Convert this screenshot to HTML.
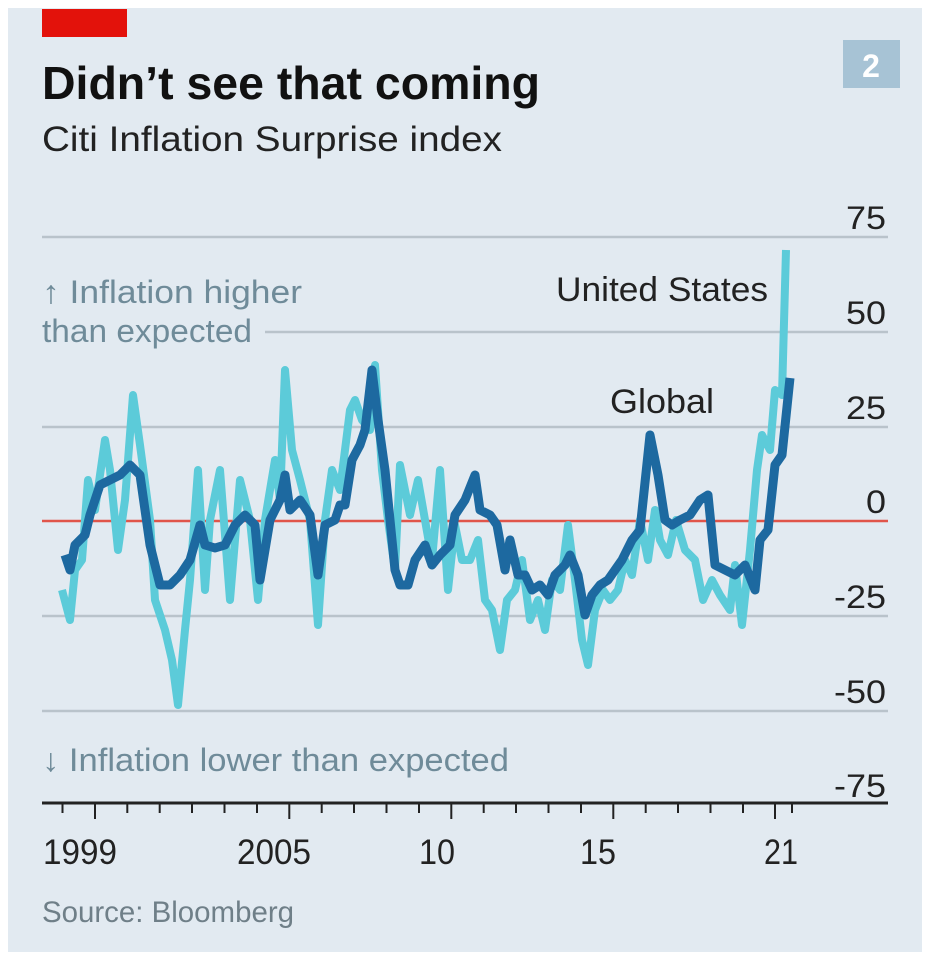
<!DOCTYPE html>
<html><head><meta charset="utf-8"><style>
html,body{margin:0;padding:0;background:#fff;}
svg{display:block;}
text{font-family:"Liberation Sans",sans-serif;}
</style></head><body>
<svg width="932" height="960" viewBox="0 0 932 960" xmlns="http://www.w3.org/2000/svg">
<rect x="8" y="8" width="914" height="944" fill="#e2eaf1"/>
<rect x="42" y="9" width="85" height="28" fill="#e3120b"/>
<text x="42" y="99" font-size="46" font-weight="bold" fill="#111" textLength="498" lengthAdjust="spacingAndGlyphs">Didn’t see that coming</text>
<text x="42" y="151" font-size="35" fill="#222" textLength="460" lengthAdjust="spacingAndGlyphs">Citi Inflation Surprise index</text>
<rect x="843" y="40" width="57" height="48" fill="#a7c3d5"/>
<text x="871" y="77" font-size="32" font-weight="bold" fill="#fff" text-anchor="middle">2</text>
<g stroke="#b9c3cb" stroke-width="2.5">
<line x1="42" y1="237" x2="888" y2="237"/>
<line x1="265" y1="332" x2="888" y2="332"/>
<line x1="42" y1="427" x2="888" y2="427"/>
<line x1="42" y1="616" x2="888" y2="616"/>
<line x1="42" y1="711" x2="888" y2="711"/>
</g>
<line x1="42" y1="521" x2="888" y2="521" stroke="#e0554a" stroke-width="2.5"/>
<g font-size="32" fill="#222" text-anchor="end">
<text x="886" y="229" textLength="40" lengthAdjust="spacingAndGlyphs">75</text>
<text x="886" y="324" textLength="40" lengthAdjust="spacingAndGlyphs">50</text>
<text x="886" y="419" textLength="40" lengthAdjust="spacingAndGlyphs">25</text>
<text x="886" y="513" textLength="20" lengthAdjust="spacingAndGlyphs">0</text>
<text x="886" y="608" textLength="52" lengthAdjust="spacingAndGlyphs">-25</text>
<text x="886" y="703" textLength="52" lengthAdjust="spacingAndGlyphs">-50</text>
<text x="886" y="797" textLength="52" lengthAdjust="spacingAndGlyphs">-75</text>
</g>
<g font-size="32" fill="#6f8b99">
<text x="42" y="303" textLength="260" lengthAdjust="spacingAndGlyphs">↑ Inflation higher</text>
<text x="42" y="342" textLength="210" lengthAdjust="spacingAndGlyphs">than expected</text>
<text x="42" y="771" textLength="467" lengthAdjust="spacingAndGlyphs">↓ Inflation lower than expected</text>
</g>
<polyline fill="none" stroke="#5ccbd9" stroke-width="8" stroke-linejoin="round" points="62,590 70,620 75,570 82,560 88,480 95,510 105,440 110,470 118,550 125,500 133,395 140,445 150,520 155,600 165,630 172,660 178,705 185,630 190,580 198,470 205,590 210,520 220,470 230,600 240,480 250,520 258,600 265,520 275,460 280,500 285,370 292,450 300,480 310,520 318,625 325,520 332,470 340,490 350,410 355,400 362,420 370,430 375,365 382,470 388,520 395,570 400,465 410,515 418,480 425,520 432,560 440,470 448,590 455,525 462,560 470,560 478,540 485,600 492,610 500,650 507,600 515,590 522,560 530,620 538,600 545,630 552,580 560,590 568,525 575,580 582,640 588,665 595,610 603,590 610,600 618,590 625,560 632,575 640,520 648,560 655,510 660,540 668,555 676,520 685,550 695,560 703,600 712,580 720,595 730,610 735,565 742,625 750,550 757,470 762,435 770,450 775,390 782,395 786,250"/>
<polyline fill="none" stroke="#1d69a0" stroke-width="9" stroke-linejoin="round" points="65,555 70,570 75,545 85,535 90,515 95,500 100,485 110,480 120,475 130,465 140,475 150,545 160,585 170,585 180,575 190,560 200,525 205,545 215,548 225,545 235,525 245,515 255,525 260,580 270,520 280,500 285,475 290,510 300,500 310,515 318,575 325,525 335,520 340,505 345,505 352,460 360,445 365,430 372,370 378,420 385,470 395,570 400,585 408,585 415,560 425,545 432,565 440,555 450,545 455,515 465,500 475,475 480,510 490,515 497,525 505,570 510,540 518,575 525,575 532,590 540,585 548,595 555,575 565,565 570,555 578,575 585,615 592,595 600,585 608,580 615,570 622,560 632,540 640,530 650,435 658,475 665,520 672,525 680,520 690,515 700,500 708,495 715,565 725,570 735,575 745,565 755,590 760,540 768,530 775,465 782,455 790,378"/>
<text x="768" y="301" font-size="34" fill="#222" text-anchor="end" textLength="212" lengthAdjust="spacingAndGlyphs">United States</text>
<text x="610" y="413" font-size="34" fill="#222" textLength="104" lengthAdjust="spacingAndGlyphs">Global</text>
<line x1="42" y1="803" x2="888" y2="803" stroke="#222" stroke-width="3"/>
<g stroke="#222" stroke-width="2">
<line x1="62.5" y1="803" x2="62.5" y2="813"/><line x1="95" y1="803" x2="95" y2="819"/>
<line x1="127.3" y1="803" x2="127.3" y2="813"/><line x1="159.7" y1="803" x2="159.7" y2="813"/>
<line x1="192" y1="803" x2="192" y2="813"/><line x1="224.5" y1="803" x2="224.5" y2="813"/>
<line x1="257" y1="803" x2="257" y2="813"/><line x1="289.3" y1="803" x2="289.3" y2="819"/>
<line x1="321.7" y1="803" x2="321.7" y2="813"/><line x1="354" y1="803" x2="354" y2="813"/>
<line x1="386.5" y1="803" x2="386.5" y2="813"/><line x1="419" y1="803" x2="419" y2="813"/>
<line x1="451.3" y1="803" x2="451.3" y2="819"/><line x1="483.7" y1="803" x2="483.7" y2="813"/>
<line x1="516" y1="803" x2="516" y2="813"/><line x1="548.5" y1="803" x2="548.5" y2="813"/>
<line x1="581" y1="803" x2="581" y2="813"/><line x1="613.3" y1="803" x2="613.3" y2="819"/>
<line x1="645.7" y1="803" x2="645.7" y2="813"/><line x1="678" y1="803" x2="678" y2="813"/>
<line x1="710.5" y1="803" x2="710.5" y2="813"/><line x1="743" y1="803" x2="743" y2="813"/>
<line x1="775" y1="803" x2="775" y2="819"/><line x1="792" y1="803" x2="792" y2="813"/>
</g>
<g font-size="35" fill="#222" text-anchor="middle">
<text x="80" y="864" textLength="74" lengthAdjust="spacingAndGlyphs">1999</text>
<text x="274" y="864" textLength="74" lengthAdjust="spacingAndGlyphs">2005</text>
<text x="437" y="864" textLength="36" lengthAdjust="spacingAndGlyphs">10</text>
<text x="598" y="864" textLength="36" lengthAdjust="spacingAndGlyphs">15</text>
<text x="781" y="864" textLength="34" lengthAdjust="spacingAndGlyphs">21</text>
</g>
<text x="42" y="922" font-size="30" fill="#6f7f88" textLength="252" lengthAdjust="spacingAndGlyphs">Source: Bloomberg</text>
</svg>
</body></html>
